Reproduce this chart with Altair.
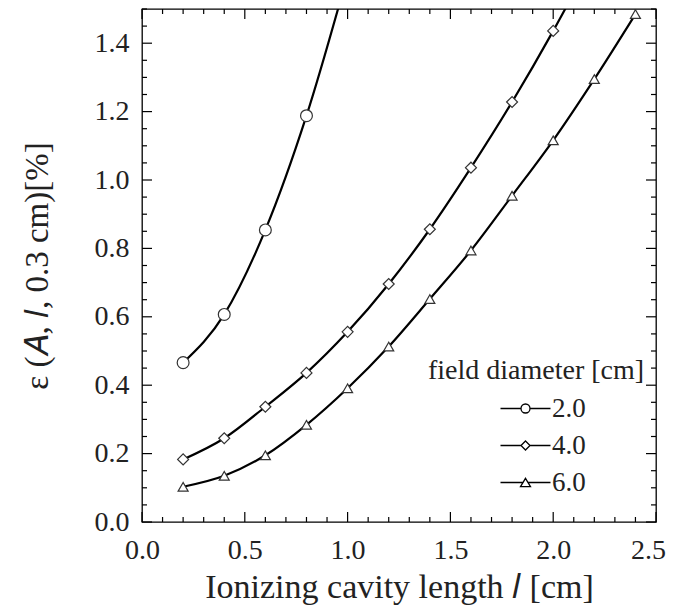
import altair as alt
import pandas as pd

# ---- data ----
l_20 = [0.2, 0.4, 0.6, 0.8, 1.0]
eps_20 = [0.466, 0.607, 0.854, 1.188, 1.60]

l_40 = [0.2, 0.4, 0.6, 0.8, 1.0, 1.2, 1.4, 1.6, 1.8, 2.0, 2.2]
eps_40 = [0.183, 0.245, 0.337, 0.436, 0.556, 0.696, 0.856, 1.036, 1.228, 1.436, 1.66]

l_60 = [0.2, 0.4, 0.6, 0.8, 1.0, 1.2, 1.4, 1.6, 1.8, 2.0, 2.2, 2.4]
eps_60 = [0.103, 0.135, 0.195, 0.284, 0.391, 0.513, 0.652, 0.794, 0.954, 1.116, 1.295, 1.485]

series = ["2.0", "4.0", "6.0"]

x_major = [0.0, 0.5, 1.0, 1.5, 2.0, 2.5]
x_minor = [0.1, 0.2, 0.3, 0.4, 0.6, 0.7, 0.8, 0.9, 1.1, 1.2, 1.3, 1.4,
           1.6, 1.7, 1.8, 1.9, 2.1, 2.2, 2.3, 2.4]
y_major = [0.0, 0.2, 0.4, 0.6, 0.8, 1.0, 1.2, 1.4]
y_minor = [0.05, 0.1, 0.15, 0.25, 0.3, 0.35, 0.45, 0.5, 0.55, 0.65, 0.7, 0.75,
           0.85, 0.9, 0.95, 1.05, 1.1, 1.15, 1.25, 1.3, 1.35, 1.45, 1.5]

rows = []
for name, ls, es in zip(series, [l_20, l_40, l_60], [eps_20, eps_40, eps_60]):
    for a, b in zip(ls, es):
        rows.append({"l": a, "eps": b, "d": name})
df = pd.DataFrame(rows)

W, H = 514, 513
FONT = "Liberation Serif"
TXT = "#222"

xscale = alt.Scale(domain=[0, 2.5], nice=False, zero=False)
yscale = alt.Scale(domain=[0, 1.5], nice=False, zero=False)
xaxis = alt.Axis(values=x_major, format=".1f", ticks=False, domain=False, grid=False,
                 labelFont=FONT, labelFontSize=28, labelColor=TXT, labelPadding=14,
                 labelFlush=False, labelOverlap=False,
                 labelOffset={"condition": {"test": "datum.value >= 2.5", "value": -8},
                              "value": 0},
                 titleFont=FONT, titleFontSize=34, titleFontWeight="normal",
                 titleColor=TXT, titlePadding=6)
yaxis = alt.Axis(values=y_major, format=".1f", ticks=False, domain=False, grid=False,
                 labelFont=FONT, labelFontSize=28, labelColor=TXT, labelPadding=13,
                 labelFlush=False, labelOverlap=False,
                 titleFont=FONT, titleFontSize=33, titleFontWeight="normal",
                 titleColor=TXT, titleX=-105, titleBaseline="middle")
XT = "Ionizing cavity length 𝑙 [cm]"
YT = "ε (𝐴, 𝑙, 0.3 cm)[%]"


def X(field):
    return alt.X(field, scale=xscale, axis=xaxis, title=XT)


def Y(field):
    return alt.Y(field, scale=yscale, axis=yaxis, title=YT)


shape_dom = alt.Scale(domain=series, range=["circle", "diamond", "triangle-up"])
size_dom = alt.Scale(domain=series, range=[140, 100, 110])

lines = alt.Chart(df).mark_line(clip=True, color="black", strokeWidth=2.2,
                                interpolate="monotone").encode(
    x=X("l:Q"), y=Y("eps:Q"), detail="d:N")

points = alt.Chart(df).mark_point(clip=True, filled=True, fill="white",
                                  stroke="#333", strokeWidth=1.2, opacity=1).encode(
    x=X("l:Q"), y=Y("eps:Q"),
    shape=alt.Shape("d:N", scale=shape_dom, legend=None),
    size=alt.Size("d:N", scale=size_dom, legend=None))

# legend glyphs "—o—": one unit = 10 px (symbolSize 400)
leg_paths = [
    "M-2.5,0H-0.45M0.45,0H2.5M0.45,0A0.45,0.45,0,1,1,-0.45,0A0.45,0.45,0,1,1,0.45,0Z",
    "M-2.5,0H-0.45M0.45,0H2.5M0,-0.45L0.45,0L0,0.45L-0.45,0Z",
    "M-2.5,0H-0.25M0.25,0H2.5M0,-0.42L0.5,0.42L-0.5,0.42Z",
]
legend_layer = alt.Chart(df).transform_filter("false").mark_point(
    filled=False, color="black", strokeWidth=1.3, opacity=1).encode(
    x=X("l:Q"), y=Y("eps:Q"),
    shape=alt.Shape("d:N", scale=alt.Scale(domain=series, range=leg_paths),
                    legend=alt.Legend(
                        title="field diameter [cm]", orient="none",
                        legendX=286, legendY=348, padding=0,
                        titleFont=FONT, titleFontSize=28, titleFontWeight="normal",
                        titleColor=TXT, titlePadding=10, titleLimit=500,
                        labelFont=FONT, labelFontSize=27, labelColor=TXT,
                        symbolSize=400, symbolOffset=84, labelOffset=13,
                        symbolStrokeWidth=1.3, symbolStrokeColor="black",
                        symbolFillColor="white", rowPadding=9)))


def ticks(vals, side, length):
    base = alt.Chart(pd.DataFrame({"v": vals})).mark_rule(color="black", strokeWidth=1.2)
    if side == "left":
        return base.encode(y=Y("v:Q"), x=alt.value(0), x2=alt.value(length))
    if side == "right":
        return base.encode(y=Y("v:Q"), x=alt.value(W), x2=alt.value(W - length))
    if side == "bottom":
        return base.encode(x=X("v:Q"), y=alt.value(H), y2=alt.value(H - length))
    return base.encode(x=X("v:Q"), y=alt.value(0), y2=alt.value(length))


tick_layers = []
for side in ["left", "right"]:
    tick_layers.append(ticks(y_major, side, 10))
    tick_layers.append(ticks(y_minor, side, 5))
for side in ["bottom", "top"]:
    tick_layers.append(ticks(x_major, side, 10))
    tick_layers.append(ticks(x_minor, side, 5))

chart = alt.layer(*tick_layers, lines, points, legend_layer).resolve_scale(
    shape="independent", size="independent"
).properties(
    width=W, height=H,
    autosize=alt.AutoSizeParams(type="none"),
    padding={"left": 134, "top": 1, "right": 11, "bottom": 85},
).configure_view(stroke="black", strokeWidth=1.3
).configure_axis(labelFont=FONT, titleFont=FONT
).configure_legend(labelFont=FONT, titleFont=FONT)

chart.save("out.html", embed_options={"renderer": "svg", "actions": False})
